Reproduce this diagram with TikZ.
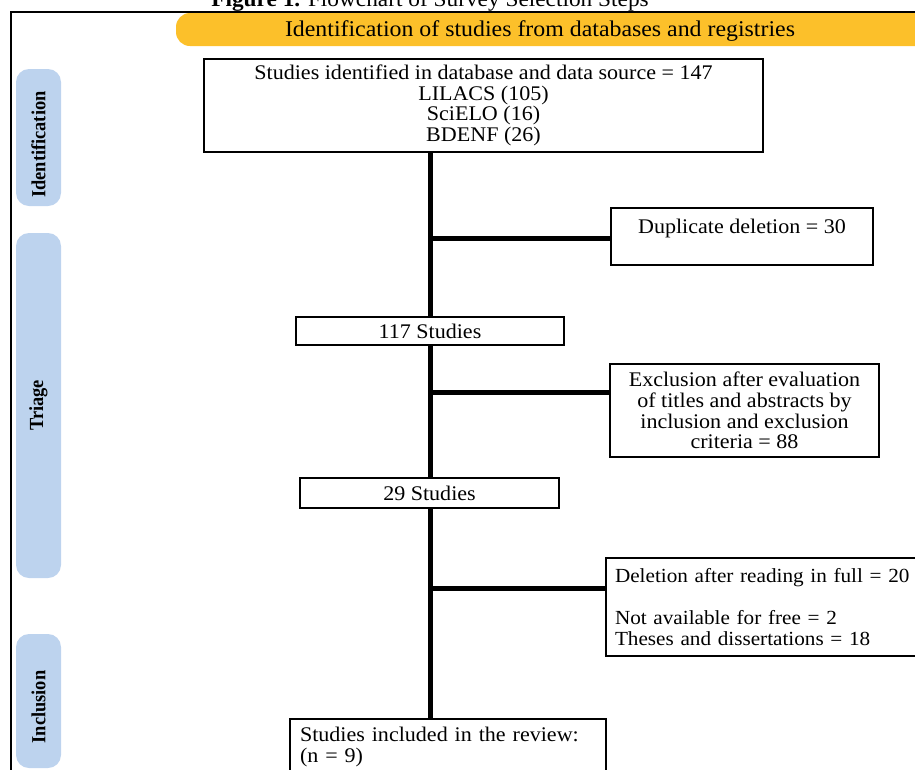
\documentclass[tikz,border=0pt]{standalone}
\usepackage{fontspec}
\setmainfont{Liberation Serif}[FakeStretch=1.06]
\newfontfamily\tabfont{Liberation Serif}[FakeStretch=0.92]
\usepackage{xcolor}
\usetikzlibrary{positioning,calc}
\definecolor{bannerorange}{HTML}{FCC02A}
\definecolor{tabblue}{HTML}{BDD3EE}
\tikzset{
  stepbox/.style={draw, line width=2pt, fill=white, inner sep=4pt, align=center, font=\fontsize{20.8}{20.7}\selectfont},
  trunk/.style={line width=5pt},
  phasetab/.style={fill=tabblue, rounded corners=13pt, rotate=90, minimum height=45pt, inner sep=0pt, font=\tabfont\bfseries\fontsize{20}{22}\selectfont},
}

\begin{document}
\begin{tikzpicture}[x=1pt,y=-1pt]
    \useasboundingbox (0,0) rectangle (915,769);
    \clip (0,0) rectangle (915,769);
    % caption and frame
    \node[anchor=base, inner sep=0pt, font=\fontsize{22}{24}\selectfont] (caption) at (430,6) {\textbf{Figure 1.} Flowchart of Survey Selection Steps};
    \draw[line width=1.3pt] (11,790) -- (11,12) -- (940,12);
    % banner
    \fill[bannerorange, rounded corners=14pt] (176,13) -- (176,46) -- (960,46) -- (960,13) -- cycle;
    \node[font=\fontsize{22.5}{24}\selectfont] (banner) at (540,31) {Identification of studies from databases and registries};
    % phase tabs
    \node[phasetab, minimum width=137pt] (tabid) at (38.5,137.5) {Identification\hspace*{14pt}};
    \node[phasetab, minimum width=345pt] (tabtr) at (38.5,405.5) {Triage};
    \node[phasetab, minimum width=134pt] (tabin) at (38.5,701) {Inclusion\hspace*{12pt}};
    % boxes
    \node[stepbox, minimum width=559pt, minimum height=93pt] (ident) at (483.5,105.5)
        {Studies identified in database and data source = 147\\LILACS (105)\\SciELO (16)\\BDENF (26)};
    \node[stepbox, minimum width=262pt, minimum height=57pt] (dup) at (742,236.5) {Duplicate deletion = 30\\~};
    \node[stepbox, minimum width=268pt, minimum height=28pt, inner sep=0pt] (s117) at (430,331) {117 Studies};
    \node[stepbox, minimum width=269pt, minimum height=93pt] (excl) at (744.5,410.5)
        {Exclusion after evaluation\\of titles and abstracts by\\inclusion and exclusion\\criteria = 88};
    \node[stepbox, minimum width=259pt, minimum height=30pt, inner sep=0pt] (s29) at (429.5,493) {29 Studies};
    \node[stepbox, anchor=west, minimum width=330pt, minimum height=98pt, align=left, text width=312pt, inner xsep=9pt, font=\fontsize{20}{20.7}\selectfont] (delet) at (605,607)
        {Deletion after reading in full = 20\\[20.7pt]Not available for free = 2\\Theses and dissertations = 18};
    \node[stepbox, anchor=north, align=left, text width=296pt, inner xsep=10pt, inner ysep=8pt] (final) at (448,718)
        {Studies included in the review:\\(n = 9)\\~};
    % junctions on the trunk
    \coordinate (j1) at ($(dup.north west)!0.53!(dup.south west)$);
    \coordinate (j2) at ($(excl.north west)!0.31!(excl.south west)$);
    \coordinate (j3) at ($(delet.north west)!0.31!(delet.south west)$);
    % connectors
    \draw[trunk] (s117.north) -- (s117.north |- ident.south);
    \draw[trunk] (s117.south) -- (s117.south |- s29.north);
    \draw[trunk] (s117.south |- s29.south) -- (s117.south |- final.north);
    \draw[trunk] (j1 -| s117) -- (j1);
    \draw[trunk] (j2 -| s117) -- (j2);
    \draw[trunk] (j3 -| s117) -- (j3);
\end{tikzpicture}
\end{document}
